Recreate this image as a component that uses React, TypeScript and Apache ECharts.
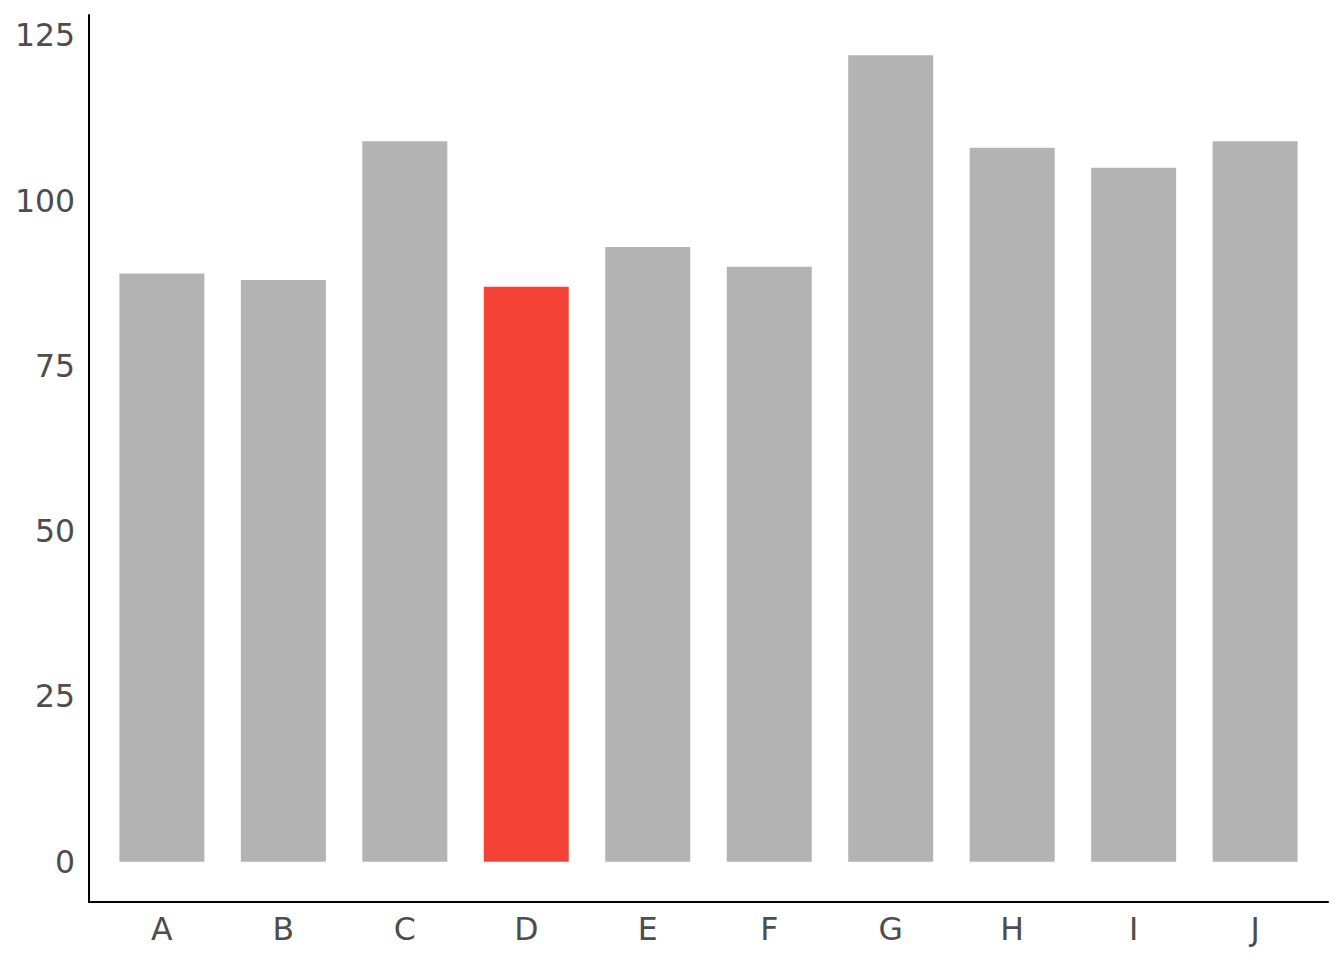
import React, { useEffect, useRef } from "react";
import * as echarts from "echarts";

const categories = ["A", "B", "C", "D", "E", "F", "G", "H", "I", "J"];
const values = [89, 88, 109, 87, 93, 90, 122, 108, 105, 109];
const highlight = "D";
const yTicks = [0, 25, 50, 75, 100, 125];

export default function App() {
  const ref = useRef<HTMLDivElement>(null);
  useEffect(() => {
    const chart = echarts.init(ref.current!, null, { renderer: "svg" });
    const font = "DejaVu Sans";
    chart.setOption({
      animation: false,
      grid: { left: 89, right: 16, top: 15, bottom: 58, containLabel: false },
      xAxis: {
        type: "value",
        min: -0.6,
        max: categories.length - 1 + 0.6,
        splitLine: { show: false },
        axisLine: { show: true, onZero: false, lineStyle: { color: "#000", width: 2 } },
        axisTick: { show: false },
        axisLabel: {
          customValues: categories.map((_, i) => i),
          formatter: (v: number) => categories[Math.round(v)] ?? "",
          color: "#4d4d4d",
          fontSize: 31.5,
          fontFamily: font,
          margin: 11,
          showMinLabel: true,
          showMaxLabel: true,
        },
      },
      yAxis: {
        type: "value",
        min: -6.1,
        max: 128.1,
        splitLine: { show: false },
        axisLine: { show: true, onZero: false, lineStyle: { color: "#000", width: 2 } },
        axisTick: { show: false },
        axisLabel: {
          customValues: yTicks,
          color: "#4d4d4d",
          fontSize: 31.5,
          fontFamily: font,
          margin: 14,
        },
      },
      series: [
        {
          type: "bar",
          barWidth: 85,
          data: values.map((v, i) => ({
            value: [i, v],
            itemStyle: { color: categories[i] === highlight ? "#F44336" : "#B3B3B3" },
          })),
        },
      ],
    });
    return () => chart.dispose();
  }, []);
  return <div ref={ref} style={{ width: 1344, height: 960, margin: -8 }} />;
}
